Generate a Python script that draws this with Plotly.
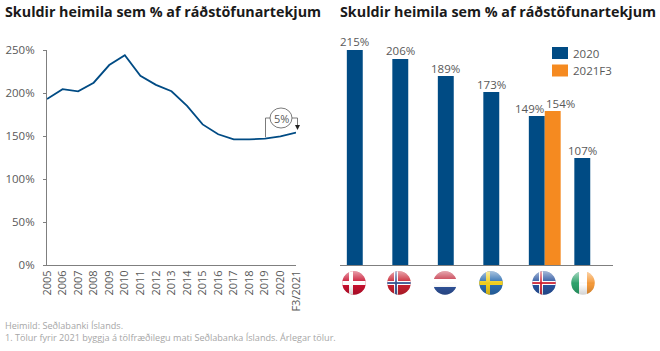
import base64
import plotly.graph_objects as go

W, H = 660, 351

# Data
years = ["2005", "2006", "2007", "2008", "2009", "2010", "2011", "2012", "2013",
         "2014", "2015", "2016", "2017", "2018", "2019", "2020", "F3/2021"]
debt = [193, 204.5, 202, 212, 232.5, 244, 220, 209.5, 202, 185, 163.5, 152, 146, 146, 147, 149.5, 154]
countries = ["Danmörk", "Noregur", "Holland", "Svíþjóð", "Ísland", "Írland"]
values_2020 = [215, 206, 189, 173, 149, 107]
values_2021 = [None, None, None, None, 154, None]
series_names = ["2020", "2021F3"]
title_text = "Skuldir heimila sem % af ráðstöfunartekjum"
source_text = "Heimild: Seðlabanki Íslands."
note_text = "1. Tölur fyrir 2021 byggja á tölfræðilegu mati Seðlabanka Íslands. Árlegar tölur."

FONT = "Open Sans"
GREY = "#595959"
AXIS = "#7f7f7f"
BLUE = "#004b84"
ORANGE = "#f58a20"


def px(x):
    return x / W


def py(y):
    return 1 - y / H


def flag(body):
    svg = f'''<svg xmlns="http://www.w3.org/2000/svg" width="96" height="96" viewBox="0 0 48 48">
<defs><clipPath id="c"><circle cx="24" cy="24" r="23.5"/></clipPath>
<linearGradient id="g" x1="0" y1="0" x2="0" y2="1">
<stop offset="0" stop-color="#fff" stop-opacity="0.6"/><stop offset="0.45" stop-color="#fff" stop-opacity="0.08"/>
<stop offset="0.55" stop-color="#000" stop-opacity="0"/><stop offset="1" stop-color="#000" stop-opacity="0.18"/></linearGradient></defs>
<g clip-path="url(#c)">{body}<rect width="48" height="48" fill="url(#g)"/></g></svg>'''
    return "data:image/svg+xml;base64," + base64.b64encode(svg.encode()).decode()


def nordic(bg, outer, inner=None):
    s = f'<rect width="48" height="48" fill="{bg}"/><rect x="14" width="8" height="48" fill="{outer}"/><rect y="20" width="48" height="8" fill="{outer}"/>'
    if inner:
        s += f'<rect x="16.25" width="3.5" height="48" fill="{inner}"/><rect y="22.25" width="48" height="3.5" fill="{inner}"/>'
    return s


flags = [
    (354, flag(nordic("#c8102e", "#ffffff"))),
    (399, flag(nordic("#c8202f", "#ffffff", "#2f4f8f"))),
    (445, flag('<rect width="48" height="16" fill="#c0273a"/><rect y="16" width="48" height="16" fill="#fff"/><rect y="32" width="48" height="16" fill="#2f539b"/>')),
    (491, flag(nordic("#2a6cb0", "#f2cf1d"))),
    (544, flag(nordic("#27539f", "#ffffff", "#d01c2e"))),
    (583, flag('<rect width="16" height="48" fill="#2ea36c"/><rect x="16" width="16" height="48" fill="#fff"/><rect x="32" width="16" height="48" fill="#f59a3a"/>')),
]

fig = go.Figure()

fig.add_trace(go.Scatter(x=years, y=debt, mode="lines", xaxis="x", yaxis="y",
                         line=dict(color=BLUE, width=1.8), showlegend=False, cliponaxis=False,
                         hoverinfo="skip"))
fig.add_trace(go.Bar(x=countries, y=values_2020, name=series_names[0], xaxis="x2", yaxis="y2",
                     marker=dict(color=BLUE, line=dict(width=0)), showlegend=False))
fig.add_trace(go.Bar(x=countries, y=values_2021, name=series_names[1], xaxis="x2", yaxis="y2",
                     marker=dict(color=ORANGE, line=dict(width=0)), showlegend=False))

annotations = []
for x0 in (3, 338):
    annotations.append(dict(xref="paper", yref="paper", x=px(x0), y=py(12), xanchor="left", yanchor="middle",
                            text=f"<b>{title_text}</b>", showarrow=False,
                            font=dict(family=FONT, size=14.3, color="#1a1a1a")))
annotations.append(dict(xref="paper", yref="paper", x=px(3), y=py(325), xanchor="left", yanchor="middle",
                        text=source_text, showarrow=False, font=dict(family=FONT, size=9.1, color="#a6a6a6")))
annotations.append(dict(xref="paper", yref="paper", x=px(3), y=py(337), xanchor="left", yanchor="middle",
                        text=note_text, showarrow=False, font=dict(family=FONT, size=9.1, color="#a6a6a6")))
annotations.append(dict(xref="paper", yref="paper", x=px(281), y=py(118), xanchor="center", yanchor="middle",
                        text="5%", showarrow=False, font=dict(family=FONT, size=11, color=GREY)))

for c, v, s in zip(countries, values_2020, [-8.75, -8.25, -8, -7.5, -15.75, -8]):
    annotations.append(dict(xref="x2", yref="y2", x=c, y=v, yanchor="bottom", xanchor="center", xshift=s, yshift=-1.5,
                            text=f"{v}%", showarrow=False, font=dict(family=FONT, size=11.5, color=GREY)))
for c, v in zip(countries, values_2021):
    if v is not None:
        annotations.append(dict(xref="x2", yref="y2", x=c, y=v, yanchor="bottom", xanchor="center", xshift=15.25, yshift=-1.5,
                                text=f"{v}%", showarrow=False, font=dict(family=FONT, size=11.5, color=GREY)))

line_style = dict(color=GREY, width=0.8)
shapes = [
    dict(type="path", xref="paper", yref="paper",
         path=f"M{px(265.5)},{py(137)} L{px(265.5)},{py(118)} L{px(270)},{py(118)}", line=line_style),
    dict(type="path", xref="paper", yref="paper",
         path=f"M{px(292)},{py(118)} L{px(297.5)},{py(118)} L{px(297.5)},{py(125)}", line=line_style),
    dict(type="path", xref="paper", yref="paper",
         path=f"M{px(295)},{py(125)} L{px(300)},{py(125)} L{px(297.5)},{py(130)} Z",
         fillcolor="#222222", line=dict(width=0)),
    dict(type="circle", xref="paper", yref="paper", x0=px(270), x1=px(292), y0=py(128), y1=py(108), line=line_style),
]

# Legend: swatches and labels placed like the reference
for name, color, top in zip(series_names, [BLUE, ORANGE], [47, 64.5]):
    shapes.append(dict(type="rect", xref="paper", yref="paper", x0=px(552), x1=px(568), y0=py(top + 12), y1=py(top),
                       fillcolor=color, line=dict(width=0)))
    annotations.append(dict(xref="paper", yref="paper", x=px(571), y=py(top + 6), xanchor="left", yanchor="middle",
                            text=name, showarrow=False, font=dict(family=FONT, size=11.5, color=GREY)))

images = [dict(source=src, xref="paper", yref="paper", x=px(cx), y=py(283), sizex=24 / W, sizey=24 / H,
               xanchor="center", yanchor="middle", sizing="stretch", layer="above")
          for cx, src in flags]

fig.update_layout(
    width=W, height=H, margin=dict(l=0, r=0, t=0, b=0, autoexpand=False),
    paper_bgcolor="white", plot_bgcolor="white",
    font=dict(family=FONT, color=GREY, size=11.5),
    barmode="group", bargap=0.3, bargroupgap=0,
    showlegend=False,
    xaxis=dict(domain=[px(47), px(296)], anchor="y", type="category", range=[0, 16], showgrid=False,
               showline=True, linecolor=AXIS, linewidth=1, ticks="", tickangle=-90,
               tickfont=dict(family=FONT, size=11, color=GREY), zeroline=False, tickmode="array",
               tickvals=years, ticktext=years),
    yaxis=dict(domain=[py(265), py(50)], anchor="x", range=[0, 250], showgrid=False, tick0=0, dtick=50,
               ticksuffix="%", showline=True, linecolor=AXIS, linewidth=1, ticks="outside", ticklen=3,
               tickcolor=AXIS, ticklabelstandoff=6, tickfont=dict(family=FONT, size=11.5, color=GREY),
               zeroline=False),
    xaxis2=dict(domain=[px(340), px(613)], anchor="y2", type="category", range=[-0.5, 5.5], showgrid=False,
                showline=True, linecolor=AXIS, linewidth=1, ticks="", showticklabels=False, zeroline=False),
    yaxis2=dict(domain=[py(265), py(50)], anchor="x2", range=[0, 215], visible=False, showgrid=False),
    annotations=annotations, shapes=shapes, images=images,
)

fig.write_html("out.html", post_script="document.body.style.margin='0';document.documentElement.style.overflow='hidden';",
               config=dict(displayModeBar=False))
